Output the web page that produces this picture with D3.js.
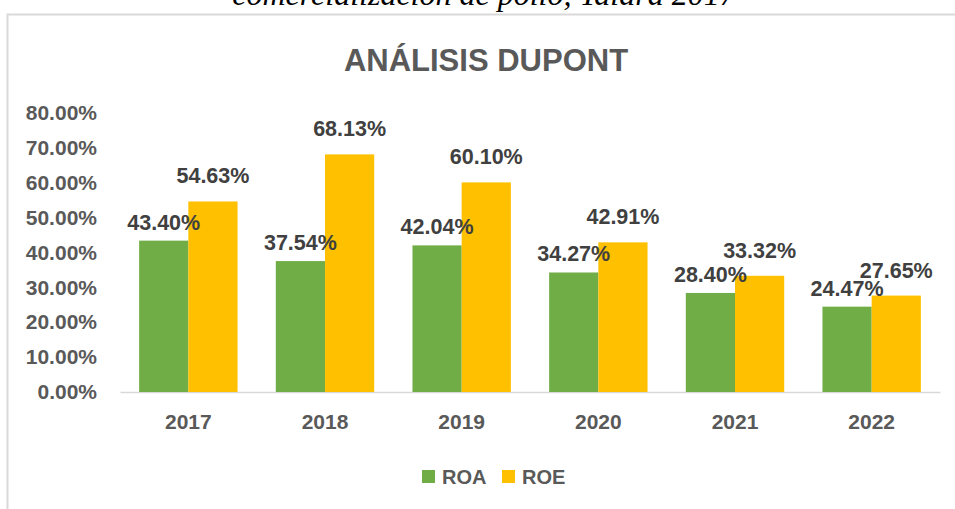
<!DOCTYPE html>
<html>
<head>
<meta charset="utf-8">
<script src="https://cdn.jsdelivr.net/npm/d3@7"></script>
<style>
    body { margin: 0; background: #fff; }
</style>
</head>
<body>
<script>
// Data
const years = ["2017", "2018", "2019", "2020", "2021", "2022"]
const roa = [43.40, 37.54, 42.04, 34.27, 28.40, 24.47]
const roe = [54.63, 68.13, 60.10, 42.91, 33.32, 27.65]
const yTicks = [0, 10, 20, 30, 40, 50, 60, 70, 80]
const seriesNames = ["ROA", "ROE"]
const seriesColors = ["#70AD47", "#FFC000"]

// Main
let main = () => {
    const width = 955
    const height = 509
    const left = 120
    const right = 940
    const top = 113
    const bottom = 392
    const axisColor = "#d9d9d9"
    const textColor = "#595959"
    const labelColor = "#404040"
    const sans = "'Liberation Sans', Arial, sans-serif"

    let svg = d3.select("body")
        .append("svg")
        .attr("width", width)
        .attr("height", height)

    // Caption cut off at the top of the page
    svg.append("text")
        .attr("x", 484)
        .attr("y", 5)
        .attr("text-anchor", "middle")
        .style("font-family", "'Liberation Serif', 'Times New Roman', serif")
        .style("font-style", "italic")
        .style("font-size", "32px")
        .style("fill", "#000")
        .text("comercialización de pollo, Talara 2017")

    // Chart frame (top and left edges visible)
    svg.append("path")
        .attr("d", `M7.5,${height} L7.5,14.5 L${width},14.5`)
        .attr("fill", "none")
        .attr("stroke", axisColor)
        .attr("stroke-width", 2)

    // Title
    svg.append("text")
        .attr("x", 486)
        .attr("y", 71)
        .attr("text-anchor", "middle")
        .style("font-family", sans)
        .style("font-weight", "bold")
        .style("font-size", "31px")
        .style("fill", textColor)
        .text("ANÁLISIS DUPONT")

    // Scales
    let xScale = d3.scaleBand()
        .domain(years)
        .range([left, right])
        .paddingInner(0.28)
        .paddingOuter(0.14)
    let xSub = d3.scaleBand()
        .domain(seriesNames)
        .range([0, xScale.bandwidth()])
    let yScale = d3.scaleLinear()
        .domain([0, 80])
        .range([bottom, top])

    // Y axis (labels only)
    let yAxis = svg.append("g")
        .attr("transform", `translate(${left}, 0)`)
        .call(d3.axisLeft(yScale).tickValues(yTicks).tickSize(0).tickPadding(23)
            .tickFormat(d => d.toFixed(2) + "%"))
    yAxis.select(".domain").remove()
    yAxis.selectAll("text")
        .style("font-family", sans)
        .style("font-weight", "bold")
        .style("font-size", "21px")
        .style("fill", textColor)

    // X axis
    let xAxis = svg.append("g")
        .attr("transform", `translate(0, ${bottom})`)
        .call(d3.axisBottom(xScale).tickSize(0).tickPadding(22))
    xAxis.select(".domain")
        .attr("stroke", axisColor)
        .attr("stroke-width", 1.5)
    xAxis.selectAll("text")
        .style("font-family", sans)
        .style("font-weight", "bold")
        .style("font-size", "21px")
        .style("fill", textColor)

    // Bars
    const rows = years.map((y, i) => ({ year: y, values: [roa[i], roe[i]] }))
    let groups = svg.selectAll(".group")
        .data(rows).enter().append("g")
        .attr("class", "group")
        .attr("transform", d => `translate(${xScale(d.year)}, 0)`)

    groups.selectAll("rect")
        .data(d => d.values.map((v, k) => ({ name: seriesNames[k], value: v, k: k })))
        .enter().append("rect")
        .attr("x", d => xSub(d.name))
        .attr("y", d => yScale(d.value))
        .attr("width", xSub.bandwidth())
        .attr("height", d => bottom - yScale(d.value))
        .attr("fill", d => seriesColors[d.k])

    // Data labels
    const labelLift = [18, 25]
    groups.selectAll(".label")
        .data(d => d.values.map((v, k) => ({ name: seriesNames[k], value: v, k: k })))
        .enter().append("text")
        .attr("class", "label")
        .attr("x", d => xSub(d.name) + xSub.bandwidth() / 2)
        .attr("y", d => yScale(d.value) - labelLift[d.k])
        .attr("text-anchor", "middle")
        .attr("dominant-baseline", "central")
        .style("font-family", sans)
        .style("font-weight", "bold")
        .style("font-size", "21.5px")
        .style("fill", labelColor)
        .text(d => d.value.toFixed(2) + "%")

    // Legend
    const legendX = [422, 502]
    let legend = svg.selectAll(".legend")
        .data(seriesNames).enter().append("g")
        .attr("class", "legend")
        .attr("transform", (d, i) => `translate(${legendX[i]}, 470)`)
    legend.append("rect")
        .attr("width", 13)
        .attr("height", 13)
        .attr("fill", (d, i) => seriesColors[i])
    legend.append("text")
        .attr("x", 20)
        .attr("y", 7)
        .attr("dominant-baseline", "central")
        .style("font-family", sans)
        .style("font-weight", "bold")
        .style("font-size", "20px")
        .style("fill", textColor)
        .text(d => d)
}

main()
</script>
</body>
</html>
